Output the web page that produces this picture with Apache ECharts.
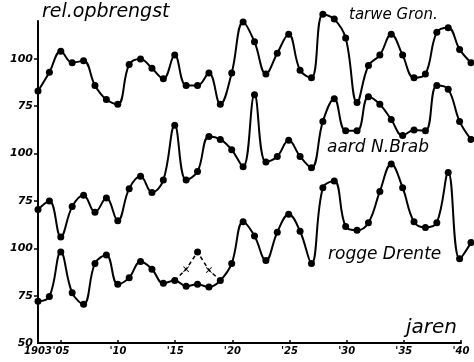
<!DOCTYPE html>
<html>
<head>
<meta charset="utf-8">
<script src="https://cdn.jsdelivr.net/npm/echarts@6/dist/echarts.min.js"></script>
<style>html,body{margin:0;padding:0;background:#fff}#c{width:474px;height:362px}</style>
</head>
<body>
<div id="c"></div>
<script>
// Years 1903 - 1941
var years = [1903,1904,1905,1906,1907,1908,1909,1910,1911,1912,1913,1914,1915,1916,1917,1918,1919,1920,
             1921,1922,1923,1924,1925,1926,1927,1928,1929,1930,1931,1932,1933,1934,1935,1936,1937,1938,1939,1940,1941];
// relative yields (each on its own stacked scale)
var tarweGron = [83,93,104,98,99,86,78.5,76,97,100,95,89.5,102,86,86,92.5,76,92.5,
                 119.5,109,92,103,113,94,90,123.5,121,111,77,96.5,102,113,102,90,92,114,116.5,105,98];
var aardNBrab = [70.5,75,56,72,78,69,76.5,64.5,81.5,88,79.5,86,115,86,90.5,109,107.5,102,
                 93,131,95.5,98.5,107,98.5,92.5,117,129,112,112,130,126,118,109.5,112.5,112,136,134,117,107.5];
var roggeDrente = [72,74.5,98,76.5,70.5,92,96.5,81,84.5,93,89,81.5,83,80,81,79.5,83,92,
                   114,106.5,93.5,108.5,118,109,92,132,135.5,111.5,109.5,113.5,130,144.5,132,114,111,113.5,140,94.5,103];
// dashed alternative for rogge Drente 1915-1919
var roggeAltYears = [1915,1916,1917,1918,1919];
var roggeAlt = [83,89,98,88.5,83];
// scale offsets of the three stacked scales
var offsets = {tarwe:100, aard:50, rogge:0};
// axis ticks
var xTickValues = [1905,1910,1915,1920,1925,1930,1935,1940];
var xLabelValues = [1903,1905,1910,1915,1920,1925,1930,1935,1940];
var yTickValues = [50,75,100,125,150,175,200];
var yTickLabels = ['50','75','100','75','100','75','100'];

function pts(ys, vals, off){ return vals.map(function(v,i){ return [ys[i], v+off]; }); }

var lineBase = function(data){
  return {type:'line', xAxisIndex:1, yAxisIndex:1, data:data, smooth:0.4, symbol:'circle', symbolSize:7,
    itemStyle:{color:'#000'}, lineStyle:{color:'#000', width:2}, clip:false, silent:true};
};

var crossPath = 'path://M1,0L5,4L9,0L10,1L6,5L10,9L9,10L5,6L1,10L0,9L4,5L0,1Z';
var altData = roggeAlt.map(function(v,i){
  var sym = 'none';
  if (i===1 || i===3) sym = crossPath;
  if (i===2) sym = 'circle';
  return {value:[roggeAltYears[i], v+offsets.rogge], symbol:sym, symbolSize:(sym==='circle'?7:6)};
});

var font = 'DejaVu Sans';
var chart = echarts.init(document.getElementById('c'), null, {renderer:'canvas'});
chart.setOption({
  animation:false,
  backgroundColor:'#fff',
  grid:[{left:38, right:13, top:21, bottom:19},
        {left:38, right:3, top:21, bottom:19}],
  xAxis:[{type:'value', gridIndex:0, min:1903, max:1940,
    axisLine:{lineStyle:{color:'#000', width:2}},
    axisTick:{show:true, inside:true, length:3, customValues:xTickValues, lineStyle:{color:'#000', width:1.5}},
    axisLabel:{customValues:xLabelValues, margin:3, color:'#000', fontFamily:font, fontStyle:'italic', fontWeight:'bold', fontSize:10,
      hideOverlap:false,
      formatter:function(v){ return v===1903 ? '1903' : "'" + String(v).slice(2); }},
    splitLine:{show:false}},
    {type:'value', gridIndex:1, min:1903, max:1941, show:false, splitLine:{show:false}}],
  yAxis:[{type:'value', gridIndex:0, min:50, max:220,
    axisLine:{show:true, lineStyle:{color:'#000', width:2}},
    axisTick:{show:true, length:4, customValues:yTickValues.slice(1), lineStyle:{color:'#000', width:1.5}},
    axisLabel:{customValues:yTickValues, margin:5, color:'#000', fontFamily:font, fontStyle:'italic', fontWeight:'bold', fontSize:11,
      formatter:function(v){ var i = yTickValues.indexOf(v); return i>=0 ? yTickLabels[i] : ''; }},
    splitLine:{show:false}},
    {type:'value', gridIndex:1, min:50, max:220, show:false, splitLine:{show:false}}],
  graphic:[
    {type:'text', left:42, top:3, style:{text:'rel.opbrengst', font:'italic 19px "DejaVu Sans"', fill:'#000'}},
    {type:'text', left:349, top:8, style:{text:'tarwe Gron.', font:'italic 15px "DejaVu Sans"', fill:'#000'}},
    {type:'text', left:327, top:139, style:{text:'aard N.Brab', font:'italic 17px "DejaVu Sans"', fill:'#000'}},
    {type:'text', left:328, top:246, style:{text:'rogge Drente', font:'italic 17px "DejaVu Sans"', fill:'#000'}},
    {type:'text', left:406, top:318, style:{text:'jaren', font:'italic 20px "DejaVu Sans"', fill:'#000'}}
  ],
  series:[
    lineBase(pts(years, tarweGron, offsets.tarwe)),
    lineBase(pts(years, aardNBrab, offsets.aard)),
    lineBase(pts(years, roggeDrente, offsets.rogge)),
    {type:'line', xAxisIndex:1, yAxisIndex:1, data:altData, smooth:false, itemStyle:{color:'#000'},
     lineStyle:{color:'#000', width:1.5, type:[4,3]}, clip:false, silent:true}
  ]
});
</script>
</body>
</html>
